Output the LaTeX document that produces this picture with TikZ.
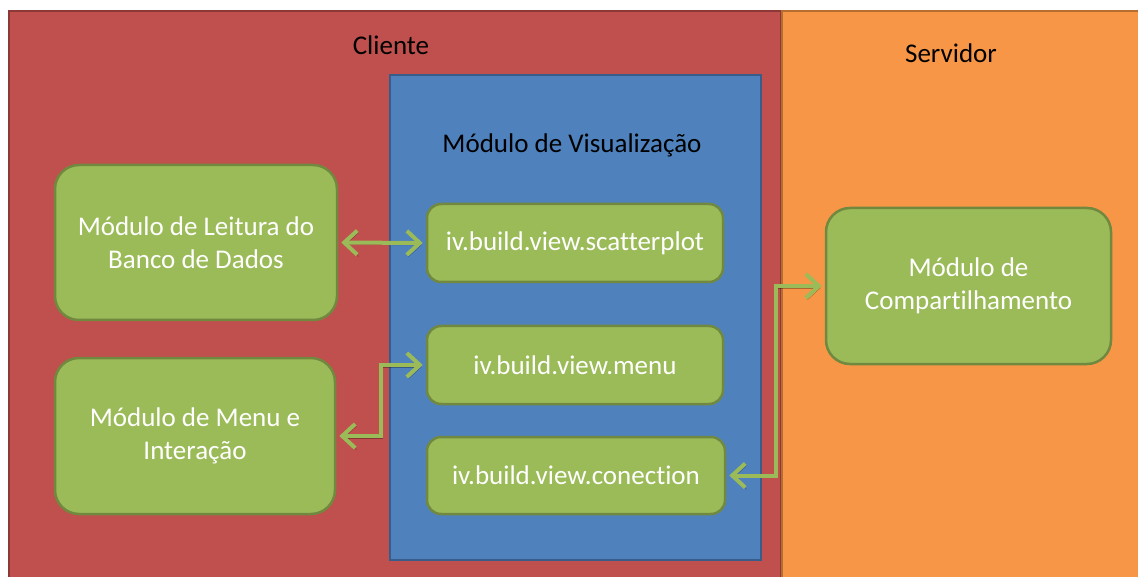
\documentclass[tikz,border=0pt]{standalone}
\usepackage{fontspec}
\setmainfont{Carlito}[Ligatures=NoCommon]
\usetikzlibrary{arrows.meta,shadows}
\definecolor{cliRed}{HTML}{C0504D}
\definecolor{cliRedLine}{HTML}{8C3836}
\definecolor{srvOrange}{HTML}{F79646}
\definecolor{srvOrangeLine}{HTML}{B66D31}
\definecolor{visBlue}{HTML}{4F81BD}
\definecolor{visBlueLine}{HTML}{385D8A}
\definecolor{modGreen}{HTML}{9BBB59}
\definecolor{modGreenLine}{HTML}{71893F}
\tikzset{
  x=1pt, y=-1pt,
  panel/.style={line width=2pt},
  title/.style={font=\fontsize{27}{33}\selectfont, text=black},
  bigmod/.style={draw=modGreenLine, fill=modGreen, line width=2.5pt,
    rounded corners=24pt, text=white, align=center,
    font=\fontsize{27}{33}\selectfont, inner sep=0pt},
  smallmod/.style={draw=modGreenLine, fill=modGreen, line width=2.5pt,
    rounded corners=14pt, text=white, align=center,
    font=\fontsize{27}{33}\selectfont, inner sep=0pt},
  link/.style={draw=modGreen, line width=4pt,
    {Straight Barb[length=13pt,width=24pt]}-{Straight Barb[length=13pt,width=24pt]},
    shorten <=3pt, shorten >=3pt,
    drop shadow={shadow xshift=1.5pt, shadow yshift=-2pt, opacity=0.3, fill=none, draw=black}},
}
\begin{document}
\begin{tikzpicture}
\useasboundingbox (0,0) rectangle (1138,577);
\fill[white] (0,0) rectangle (1138,577);
\begin{scope}
\clip (0,0) rectangle (1138,577);
% client and server areas
\draw[panel, fill=cliRed, draw=cliRedLine] (9,11) rectangle (781,600);
\draw[panel, fill=srvOrange, draw=srvOrangeLine] (782,11) rectangle (1145,600);
\end{scope}
% visualisation module
\draw[panel, fill=visBlue, draw=visBlueLine] (390,75) rectangle (761,560);

\node[title] (cliente) at (391,45) {Cliente};
\node[title] (servidor) at (951,53) {Servidor};
\node[title] (visual) at (572,145) {Módulo de Visualização};

% modules
\node[bigmod, minimum width=282pt, minimum height=155pt] (leitura) at (196,242.5)
  {Módulo de Leitura do\\Banco de Dados};
\node[bigmod, minimum width=280pt, minimum height=156pt] (menuint) at (195,436)
  {Módulo de Menu e\\Interação};
\node[bigmod, minimum width=285pt, minimum height=156pt] (compart) at (968.5,286)
  {Módulo de\\Compartilhamento};
\node[smallmod, minimum width=296pt, minimum height=78pt] (scatter) at (575,243)
  {iv.build.view.scatterplot};
\node[smallmod, minimum width=296pt, minimum height=78pt] (menu) at (575,365)
  {iv.build.view.menu};
\node[smallmod, minimum width=298pt, minimum height=77pt] (conection) at (576,475.5)
  {iv.build.view.conection};

% connectors
\coordinate (bendL) at (381,0);
\coordinate (bendR) at (776,0);
\draw[link] (leitura.east) -- (scatter.west);
\draw[link] (menuint.east) -- (menuint.east -| bendL) |- (menu.west);
\draw[link] (conection.east) -- (conection.east -| bendR) |- (compart.west);
\end{tikzpicture}
\end{document}
